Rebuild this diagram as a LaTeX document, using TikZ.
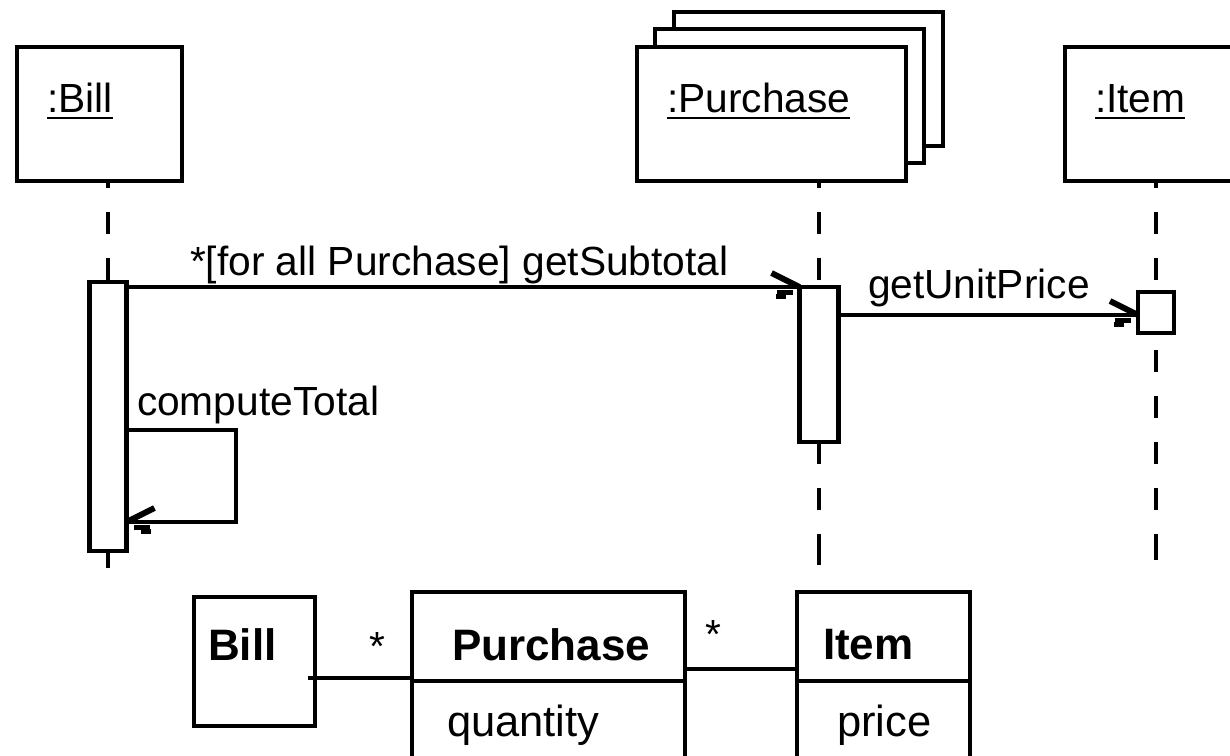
\documentclass[tikz,border=0pt]{standalone}
\usepackage{fontspec}
\setmainfont{Liberation Sans}
\usetikzlibrary{calc,backgrounds}
\tikzset{
  box/.style={draw, line width=4.5pt, fill=white, rectangle, inner sep=0pt, outer sep=0pt},
  lbl/.style={inner sep=0pt, outer sep=0pt, anchor=base west, font=\fontsize{40.7}{48}\selectfont},
  cname/.style={lbl, font=\fontsize{44}{52}\selectfont\bfseries},
  cattr/.style={lbl, font=\fontsize{43.5}{52}\selectfont},
  life/.style={line width=4.5pt, dash pattern=on 22pt off 24pt, dash phase=15pt},
  lifeend/.style={line width=4.5pt},
  msg/.style={line width=4pt},
  assoc/.style={line width=4pt},
  uline/.style={line width=2.5pt},
}
% open arrow head: a solid upper barb and a broken lower barb
\newcommand{\openbarb}[2]{%
  \begin{scope}[shift={(#1)}, xscale=#2]
    \draw[line width=6pt] (-28,-14) -- (0,0);
    \fill (-23,3) rectangle (-7,7.5);
    \fill (-24,7) rectangle (-14,11.5);
  \end{scope}}
\begin{document}
\begin{tikzpicture}[x=1pt, y=-1pt]
\useasboundingbox (0,0) rectangle (1230,755);

% ---------- object boxes ----------
\node[box, minimum width=165pt, minimum height=134pt] (bbox) at (99.5,114) {};
\node[box, minimum width=269pt, minimum height=134pt] (pback) at (808.5,79) {};
\node[box, minimum width=269pt, minimum height=134pt] (pmid) at (789.5,96) {};
\node[box, minimum width=269pt, minimum height=134pt] (pfront) at (771.5,114) {};
\node[box, minimum width=182pt, minimum height=134pt] (ibox) at (1156,114) {};

\node[lbl] (tb) at (47,112) {:Bill};
\node[lbl] (tp) at (667,112) {:Purchase};
\node[lbl] (ti) at (1095,112) {:Item};
\foreach \t in {tb,tp,ti}
  \draw[uline] ($(\t.base west)+(0,6)$) -- ($(\t.base east)+(0,6)$);

% ---------- activation bars ----------
\node[box, minimum width=37pt, minimum height=269pt] (bact) at (108,416.5) {};
\node[box, minimum width=39pt, minimum height=155pt] (pact) at (819,364.5) {};
\node[box, minimum width=36pt, minimum height=41pt] (iact) at (1156,312.5) {};

% ---------- lifelines ----------
\coordinate (bend) at (108,568);
\coordinate (pend) at (819,565);
\coordinate (iend) at (1156,560);
\begin{scope}[on background layer]
  \fill[white] (0,0) rectangle (1230,755);
  \draw[life] (bbox.south -| bact) -- ($(bend)+(0,-34)$);
  \draw[lifeend] ($(bend)+(0,-34)$) -- (bend);
  \draw[life] (pfront.south -| pact) -- ($(pend)+(0,-31)$);
  \draw[lifeend] ($(pend)+(0,-31)$) -- (pend);
  \draw[life] (ibox.south -| iact) -- ($(iend)+(0,-26)$);
  \draw[lifeend] ($(iend)+(0,-26)$) -- (iend);
\end{scope}

% ---------- messages ----------
\coordinate (m1s) at ($(bact.north east)+(0,5)$);
\draw[msg] (m1s) -- (pact.north west);
\openbarb{pact.north west}{1}
\node[lbl] (t1) at (190,275) {*[for all Purchase] getSubtotal};

\coordinate (m2s) at ($(pact.north east)+(0,28)$);
\coordinate (m2e) at ($(iact.north west)+(0,23)$);
\draw[msg] (m2s) -- (m2e);
\openbarb{m2e}{1}
\node[lbl] (t2) at (868,298) {getUnitPrice};

\coordinate (s1) at ($(bact.north east)+(0,148)$);
\coordinate (s2) at ($(bact.north east)+(0,240)$);
\draw[msg] (s1) -| ($(s1)+(109,92)$) -- (s2);
\openbarb{s2}{-1}
\node[lbl] (t3) at (137,415) {computeTotal};

% ---------- class diagram ----------
\node[box, minimum width=121pt, minimum height=129pt] (bcls) at (254.5,661.5) {};
\node[box, minimum width=273pt, minimum height=178pt] (pcls) at (548.5,681) {};
\node[box, minimum width=173pt, minimum height=178pt] (icls) at (883.5,681) {};
\draw[assoc] (pcls.west) -- (pcls.east);
\draw[assoc] (icls.west) -- (icls.east);

\draw[assoc] ($(bcls.east)+(-7,16.5)$) -- ($(pcls.west)+(0,-3)$);
\draw[assoc] ($(pcls.east)+(0,-12)$) -- ($(icls.west)+(0,-12)$);

\node[cname] (cb) at (208,660) {Bill};
\node[cname] (cp) at (452,660) {Purchase};
\node[cname] (ci) at (823,659) {Item};
\node[cattr] (aq) at (447,736) {quantity};
\node[cattr] (ap) at (837,736) {price};
\node[lbl, anchor=base] (st1) at (377,660) {*};
\node[lbl, anchor=base] (st2) at (713,648) {*};
\end{tikzpicture}
\end{document}
